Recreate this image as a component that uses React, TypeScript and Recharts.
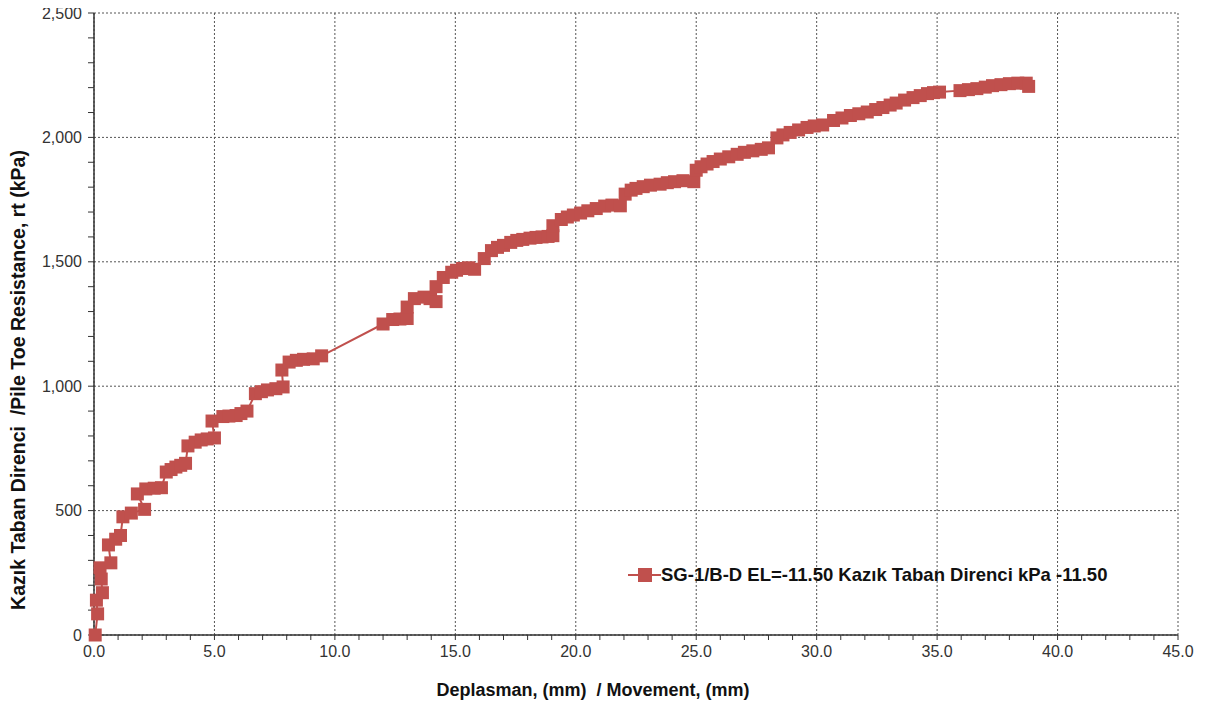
import React from "react";
import {
  ComposedChart,
  Line,
  XAxis,
  YAxis,
  CartesianGrid,
  Label,
} from "recharts";

// Pile toe load-movement readings (SG-1/B-D, EL -11.50)
const dispMm = [
  0.05, 0.15, 0.1, 0.35, 0.3, 0.25, 0.7, 0.6, 0.9, 1.1, 1.2, 1.55, 2.1, 1.8,
  2.15, 2.5, 2.8, 3.0, 3.2, 3.4, 3.6, 3.8, 3.9, 4.2, 4.45, 4.7, 5.0, 4.9,
  5.35, 5.6, 5.9, 6.1, 6.35, 6.7, 6.95, 7.2, 7.55, 7.85, 7.8, 8.1, 8.4, 8.7,
  9.1, 9.45, 12.0, 12.4, 12.7, 13.0, 13.0, 13.3, 13.7, 13.95, 14.2, 14.2,
  14.5, 14.85, 15.05, 15.3, 15.55, 15.8, 16.2, 16.5, 16.75, 17.0, 17.3, 17.55,
  17.8, 18.1, 18.35, 18.6, 18.85, 19.05, 19.05, 19.4, 19.65, 19.9, 20.2, 20.5,
  20.85, 21.2, 21.5, 21.85, 22.05, 22.3, 22.5, 22.8, 23.1, 23.5, 23.8, 24.1,
  24.45, 24.9, 25.0, 25.2, 25.45, 25.7, 26.0, 26.35, 26.7, 27.0, 27.35, 27.7,
  28.0, 28.35, 28.6, 28.9, 29.25, 29.6, 29.9, 30.25, 30.7, 31.05, 31.4, 31.75,
  32.1, 32.45, 32.75, 33.05, 33.3, 33.65, 34.0, 34.3, 34.6, 34.85, 35.1, 35.95,
  36.3, 36.65, 37.0, 37.3, 37.65, 38.0, 38.35, 38.7, 38.8,
];
const toeKpa = [
  0, 85, 140, 170, 225, 270, 290, 362, 385, 400, 475, 490, 505, 567, 587, 590,
  592, 655, 665, 675, 682, 690, 760, 775, 784, 788, 792, 860, 878, 880, 882,
  890, 900, 970, 978, 985, 990, 997, 1065, 1097, 1104, 1108, 1110, 1122, 1250,
  1268, 1270, 1272, 1318, 1352, 1358, 1352, 1340, 1400, 1437, 1458, 1466, 1473,
  1476, 1470, 1513, 1545, 1558, 1566, 1578, 1586, 1590, 1595, 1598, 1600, 1602,
  1605, 1645, 1670, 1680, 1688, 1696, 1705, 1714, 1724, 1728, 1725, 1772, 1788,
  1795, 1802, 1808, 1812, 1818, 1822, 1826, 1822, 1868, 1882, 1893, 1903, 1913,
  1922, 1932, 1940, 1946, 1952, 1958, 1998, 2010, 2020, 2030, 2040, 2046, 2050,
  2068, 2078, 2088, 2095, 2102, 2112, 2120, 2130, 2138, 2150, 2160, 2168, 2176,
  2180, 2182, 2188, 2192, 2196, 2202, 2208, 2212, 2216, 2218, 2218, 2205,
];

const xMajor = [0, 5, 10, 15, 20, 25, 30, 35, 40, 45];
const yMajor = [0, 500, 1000, 1500, 2000, 2500];
const xMinor = Array.from({ length: 46 }, (_, i) => i);
const yMinor = Array.from({ length: 26 }, (_, i) => i * 100);

const seriesName = "SG-1/B-D EL=-11.50 Kazık Taban Direnci kPa -11.50";
const xTitle = "Deplasman, (mm)  / Movement, (mm)";
const yTitle = "Kazık Taban Direnci  /Pile Toe Resistance, rt (kPa)";
const RED = "#C0504D";
const AXIS = "#333333";

const data = dispMm.map((d, i) => ({ disp: d, toe: toeKpa[i] }));

const SquareDot = (props: any) => {
  const { cx, cy } = props;
  if (cx == null || cy == null) return null;
  return <rect x={cx - 6.5} y={cy - 6.5} width={13} height={13} fill={RED} />;
};

const XTick = (props: any) => {
  const { x, y, payload } = props;
  if (!xMajor.includes(payload.value)) return null;
  return (
    <text x={x} y={y} dy="0.71em" textAnchor="middle" fontSize={16} fill={AXIS}>
      {payload.value.toFixed(1)}
    </text>
  );
};

const YTick = (props: any) => {
  const { x, y, payload } = props;
  if (!yMajor.includes(payload.value)) return null;
  return (
    <text x={x} y={y} dy="0.35em" textAnchor="end" fontSize={16} fill={AXIS}>
      {payload.value.toLocaleString("en-US")}
    </text>
  );
};

const titleStyle = { fontWeight: "bold", fill: "#111", whiteSpace: "pre" } as any;

// axis titles sit where the original layout had them, not centred on the plot
const YTitle = () => {
  const cx = 25;
  const cy = 380;
  return (
    <text x={cx} y={cy} transform={`rotate(-90, ${cx}, ${cy})`} textAnchor="middle" style={{ ...titleStyle, fontSize: 19.5 }}>
      {yTitle}
    </text>
  );
};

const XTitle = () => (
  <text x={593} y={696} textAnchor="middle" style={{ ...titleStyle, fontSize: 18 }}>
    {xTitle}
  </text>
);

const LegendBox = () => (
  <div style={{ position: "absolute", left: 628, top: 563, display: "flex", alignItems: "center" }}>
    <svg width={33} height={16}>
      <line x1={0} y1={8} x2={33} y2={8} stroke={RED} strokeWidth={2} />
      <rect x={10} y={1} width={14} height={14} fill={RED} />
    </svg>
    <span style={{ fontWeight: "bold", fontSize: 18.5, color: "#111", lineHeight: "24px" }}>{seriesName}</span>
  </div>
);

export default function App() {
  return (
    <div
      style={{
        position: "relative",
        width: 1208,
        height: 704,
        margin: "-8px 0 0 -8px",
        fontFamily: "'Liberation Sans', Arial, sans-serif",
      }}
    >
      <ComposedChart
        width={1208}
        height={704}
        data={data}
        margin={{ top: 13, right: 30, bottom: 0, left: 0 }}
      >
        <CartesianGrid
          stroke="#555"
          strokeDasharray="2 2"
          verticalValues={xMajor}
          horizontalValues={yMajor}
        />
        <XAxis
          dataKey="disp"
          type="number"
          domain={[0, 45]}
          ticks={xMinor}
          interval={0}
          height={69}
          tickSize={5}
          tickMargin={6}
          tick={<XTick />}
          axisLine={{ stroke: AXIS, strokeWidth: 1.5 }}
          tickLine={{ stroke: AXIS }}
        >
          <Label content={<XTitle />} />
        </XAxis>
        <XAxis
          xAxisId="top"
          orientation="top"
          type="number"
          domain={[0, 45]}
          height={0}
          tick={false}
          tickLine={false}
          axisLine={{ stroke: AXIS, strokeWidth: 1.5 }}
        />
        <YAxis
          type="number"
          domain={[0, 2500]}
          ticks={yMinor}
          interval={0}
          width={94}
          tickSize={6}
          tickMargin={6}
          tick={<YTick />}
          axisLine={{ stroke: AXIS, strokeWidth: 1.5 }}
          tickLine={{ stroke: AXIS }}
        >
          <Label content={<YTitle />} />
        </YAxis>
        <YAxis
          yAxisId="right"
          orientation="right"
          type="number"
          domain={[0, 2500]}
          width={0}
          tick={false}
          tickLine={false}
          axisLine={{ stroke: AXIS, strokeWidth: 1.5 }}
        />
        <Line
          dataKey="toe"
          name={seriesName}
          stroke={RED}
          strokeWidth={2}
          dot={<SquareDot />}
          activeDot={false}
          isAnimationActive={false}
        />
      </ComposedChart>
      <LegendBox />
    </div>
  );
}
